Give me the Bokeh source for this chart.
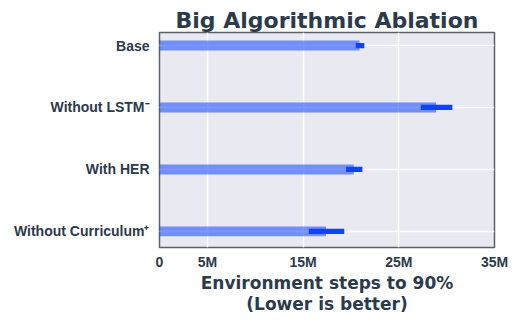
from bokeh.plotting import figure
from bokeh.models import Range1d, FixedTicker
from bokeh.embed import file_html
from bokeh.resources import INLINE

labels = ["Base", "Without LSTM\u207b", "With HER", "Without Curriculum\u207a"]
means_m = [20.9, 28.9, 20.3, 17.4]
lower_m = [20.5, 27.3, 19.5, 15.6]
upper_m = [21.4, 30.6, 21.2, 19.3]
xticks_m = [0, 5, 15, 25, 35]
xtick_labels = ["0", "5M", "15M", "25M", "35M"]

n = len(labels)
ypos = [n - 1 - i for i in range(n)]
means = [v * 1e6 for v in means_m]
lower = [v * 1e6 for v in lower_m]
upper = [v * 1e6 for v in upper_m]

TEXT = "#2b3a4c"
p = figure(frame_width=335, frame_height=215, output_backend="svg", toolbar_location=None,
           x_range=Range1d(0, 35e6), y_range=Range1d(-0.26, 3.21),
           min_border_left=159, min_border_right=18, min_border_bottom=70, min_border_top=32)
p.background_fill_color = "#e9e9f1"
p.border_fill_color = "white"
p.outline_line_color = "#5b6068"
p.outline_line_width = 1.5

p.title.text = "Big Algorithmic Ablation"
p.title.align = "center"
p.title.text_font = "DejaVu Sans"
p.title.text_font_size = "22px"
p.title.text_font_style = "bold"
p.title.text_color = TEXT
p.title.standoff = 0
p.title.offset = 0

p.hbar(y=ypos, left=0, right=means, height=0.16, fill_color="#1144ff", fill_alpha=0.55, line_color=None)
p.hbar(y=ypos, left=lower, right=upper, height=0.085, fill_color="#0f42ff", line_color=None)

p.xaxis.ticker = FixedTicker(ticks=[v * 1e6 for v in xticks_m])
p.xaxis.major_label_overrides = {v * 1e6: s for v, s in zip(xticks_m, xtick_labels)}
p.yaxis.ticker = FixedTicker(ticks=ypos)
p.yaxis.major_label_overrides = {y: s for y, s in zip(ypos, labels)}

for ax in (p.xaxis[0], p.yaxis[0]):
    ax.axis_line_color = None
    ax.major_tick_line_color = None
    ax.minor_tick_line_color = None
    ax.major_tick_out = 0
    ax.major_tick_in = 0
    ax.major_label_text_font = "Liberation Sans"
    ax.major_label_text_font_style = "bold"
    ax.major_label_text_font_size = "14px"
    ax.major_label_text_color = TEXT
p.yaxis.major_label_standoff = 10
p.xaxis.major_label_standoff = 6

p.xaxis.axis_label = "Environment steps to 90%\n(Lower is better)"
p.xaxis.axis_label_text_font = "DejaVu Sans"
p.xaxis.axis_label_text_font_size = "17px"
p.xaxis.axis_label_text_font_style = "bold"
p.xaxis.axis_label_text_color = TEXT
p.xaxis.axis_label_text_line_height = 1.05
p.xaxis.axis_label_standoff = 0

p.grid.grid_line_color = "white"
p.grid.grid_line_width = 1.5
p.grid.grid_line_alpha = 1.0

open("out.html", "w").write(file_html(p, INLINE))
